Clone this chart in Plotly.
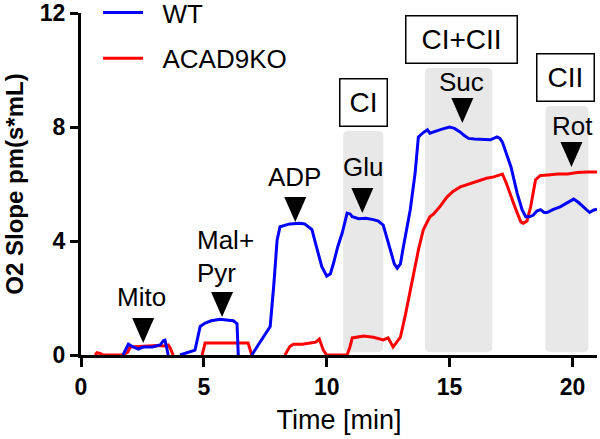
import plotly.graph_objects as go

# WT trace (None = gap in the recording)
wt_time = [1.71, 1.93, 2.12, 2.33, 2.53, 2.9, 3.22, 3.35, 3.42, 3.5, 3.55, None,
           4.03, 4.64, 4.85, 5.05, 5.3, 5.66, 6.0, 6.2, 6.35, 6.4, None,
           6.95, 7.7, 7.85, 7.98, 8.1, 8.3, 8.5, 8.9, 9.1, 9.25, 9.4, 9.55, 9.65, 9.8,
           10.0, 10.15, 10.27, 10.45, 10.63, 10.83, 10.95, 11.04, 11.3, 11.6, 11.9,
           12.1, 12.3, 12.45, 12.6, 12.75, 12.87, 13.0, 13.1, 13.3, 13.4, 13.6, 13.73,
           13.95, 14.1, 14.2, 14.4, 14.6, 14.8, 15.0, 15.2, 15.44, 15.6, 15.77, 16.0,
           16.3, 16.66, 16.93, 17.05, 17.15, 17.3, 17.5, 17.75, 17.95, 18.1, 18.25,
           18.4, 18.55, 18.7, 18.85, 18.97, 19.2, 19.5, 19.8, 20.05, 20.25, 20.45,
           20.7, 20.85, 21.0]
wt_slope = [0, 0.38, 0.28, 0.21, 0.28, 0.28, 0.35, 0.5, 0.52, 0.25, 0, None,
            0, 0.17, 1.0, 1.12, 1.2, 1.25, 1.22, 1.2, 1.1, 0, None,
            0, 1.0, 2.5, 4.03, 4.5, 4.55, 4.6, 4.62, 4.6, 4.5, 4.4, 3.9, 3.57, 3.1,
            2.77, 2.85, 3.2, 3.8, 4.28, 4.98, 4.95, 4.85, 4.78, 4.8, 4.75,
            4.7, 4.56, 4.1, 3.68, 3.2, 3.05, 3.2, 3.7, 4.6, 5.1, 6.4, 7.65,
            7.82, 7.9, 7.78, 7.85, 7.9, 7.95, 8.0, 7.95, 7.82, 7.7, 7.6, 7.58,
            7.56, 7.55, 7.65, 7.6, 7.47, 7.1, 6.6, 5.68, 5.1, 4.85, 4.85,
            4.9, 5.05, 5.1, 5.0, 5.0, 5.1, 5.2, 5.35, 5.47, 5.35, 5.2,
            5.0, 5.08, 5.12]

# ACAD9KO trace
ko_time = [0.57, 0.65, 0.8, 0.9, 1.7, 1.9, 2.0, 2.3, 2.7, 3.1, 3.42, 3.55, 3.63, 3.75, None,
           4.93, 5.05, 5.5, 6.0, 6.5, 6.8, 6.95, None,
           8.3, 8.5, 8.64, 9.0, 9.33, 9.55, 9.7, 9.86, 10.0, 10.83, 10.95, 11.04, 11.5,
           11.9, 12.3, 12.5, 12.7, 13.0, 13.2, 13.4, 13.55, 13.73, 13.93, 14.2, 14.35,
           14.6, 14.9, 15.15, 15.44, 15.7, 16.0, 16.5, 16.8, 17.15, 17.3, 17.5, 17.7,
           17.9, 18.0, 18.15, 18.3, 18.5, 18.7, 19.0, 19.4, 19.8, 20.2, 20.6, 21.0]
ko_slope = [0, 0.08, 0.05, 0, 0, 0.1, 0.28, 0.3, 0.32, 0.33, 0.32, 0.35, 0.25, 0, None,
            0, 0.42, 0.42, 0.43, 0.42, 0.42, 0, None,
            0, 0.3, 0.38, 0.38, 0.42, 0.45, 0.56, 0.17, 0, 0, 0.3, 0.6, 0.67,
            0.62, 0.53, 0.6, 0.28, 0.63, 1.4, 2.28, 2.9, 3.68, 4.39, 4.85, 4.95,
            5.2, 5.55, 5.75, 5.9, 5.98, 6.07, 6.2, 6.25, 6.35, 6.05, 5.55, 5.1,
            4.67, 4.62, 4.7, 5.2, 6.15, 6.3, 6.32, 6.35, 6.35, 6.4, 6.42, 6.42]

# substrate additions: arrow tips
arrow_time = [2.53, 5.74, 8.72, 11.45, 15.52, 19.96]
arrow_slope = [0.42, 1.33, 4.67, 4.98, 8.14, 6.6]
# labels above the arrows
label_text = ['Mito', 'Mal+', 'Pyr', 'ADP', 'Glu', 'Suc', 'Rot']
label_time = [2.48, 4.64, 4.64, 8.68, 11.49, 15.48, 20.0]
label_slope = [2.04, 4.04, 2.88, 6.25, 6.6, 9.58, 8.04]
label_anchor = ['center', 'left', 'left', 'center', 'center', 'center', 'center']

# complex shaded windows
window_names = ['CI', 'CI+CII', 'CII']
window_start = [10.67, 14.0, 18.9]
window_end = [12.3, 16.74, 20.65]
window_top = [7.86, 10.07, 8.74]
box_time = [11.49, 15.48, 19.71]
box_slope = [8.86, 11.07, 9.74]
box_width = [46, 110, 56]

FONT = 'Liberation Sans, Arial, sans-serif'
NB = '\u00a0'


def rounded_rect(x0, x1, y0, y1, rx=0.2, ry=0.17):
    return (f'M{x0+rx},{y0} L{x1-rx},{y0} Q{x1},{y0} {x1},{y0+ry} '
            f'L{x1},{y1-ry} Q{x1},{y1} {x1-rx},{y1} L{x0+rx},{y1} '
            f'Q{x0},{y1} {x0},{y1-ry} L{x0},{y0+ry} Q{x0},{y0} {x0+rx},{y0} Z')


fig = go.Figure()

fig.add_trace(go.Scatter(x=ko_time, y=ko_slope, mode='lines', name=NB * 2 + 'ACAD9KO',
                         line=dict(color='#ff0000', width=3), legendrank=2, legendgroup='ko'))
fig.add_trace(go.Scatter(x=wt_time, y=wt_slope, mode='lines', name=NB * 2 + 'WT',
                         line=dict(color='#0000ff', width=3), legendrank=1, legendgroup='wt'))

for x0, x1, top in zip(window_start, window_end, window_top):
    fig.add_shape(type='path', path=rounded_rect(x0, x1, 0.1, top),
                  fillcolor='#e8e8e8', line=dict(width=0), layer='below')

for name, bx, by, bw in zip(window_names, box_time, box_slope, box_width):
    fig.add_annotation(x=bx, y=by, text=name, showarrow=False,
                       font=dict(family=FONT, size=28, color='black'),
                       bgcolor='white', bordercolor='black', borderwidth=1.5,
                       borderpad=0, width=bw, height=46)

for at, av in zip(arrow_time, arrow_slope):
    fig.add_shape(type='path', xref='x', yref='y', xsizemode='pixel', ysizemode='pixel',
                  xanchor=at, yanchor=av, path='M-11,25 L11,25 L0,0 Z',
                  fillcolor='black', line=dict(width=0))

for name, lt, lv, anc in zip(label_text, label_time, label_slope, label_anchor):
    fig.add_annotation(x=lt, y=lv, text=name, showarrow=False, xanchor=anc,
                       font=dict(family=FONT, size=26, color='black'))

fig.update_layout(
    width=600, height=439,
    margin=dict(l=81, r=3, t=13, b=84, autoexpand=False),
    plot_bgcolor='white', paper_bgcolor='white',
    font=dict(family=FONT, color='black'),
    showlegend=True,
    legend=dict(x=0.033, y=1.07, xanchor='left', yanchor='top',
                font=dict(family=FONT, size=26), bgcolor='rgba(0,0,0,0)',
                itemwidth=40, tracegroupgap=9),
    xaxis=dict(range=[0, 21], tickvals=[0, 5, 10, 15, 20], showgrid=False, zeroline=False,
               showline=True, linecolor='black', linewidth=3, ticks='outside',
               ticklen=9, tickwidth=3, tickcolor='black', layer='below traces',
               automargin=False,
               tickfont=dict(family=FONT, size=23, weight='bold'),
               title=dict(text='Time [min]', font=dict(family=FONT, size=27), standoff=12)),
    yaxis=dict(range=[0, 12], tickvals=[0, 4, 8, 12], showgrid=False, zeroline=False,
               showline=True, linecolor='black', linewidth=3, ticks='outside',
               ticklen=8, tickwidth=3, tickcolor='black', layer='below traces',
               automargin=False,
               tickfont=dict(family=FONT, size=23, weight='bold'),
               title=dict(text='O2 Slope pm(s*mL)',
                          font=dict(family=FONT, size=24, weight='bold'), standoff=10)),
)

fig.write_html('out.html', config={'displayModeBar': False},
               post_script="document.body.style.margin='0';document.body.style.overflow='hidden';")
